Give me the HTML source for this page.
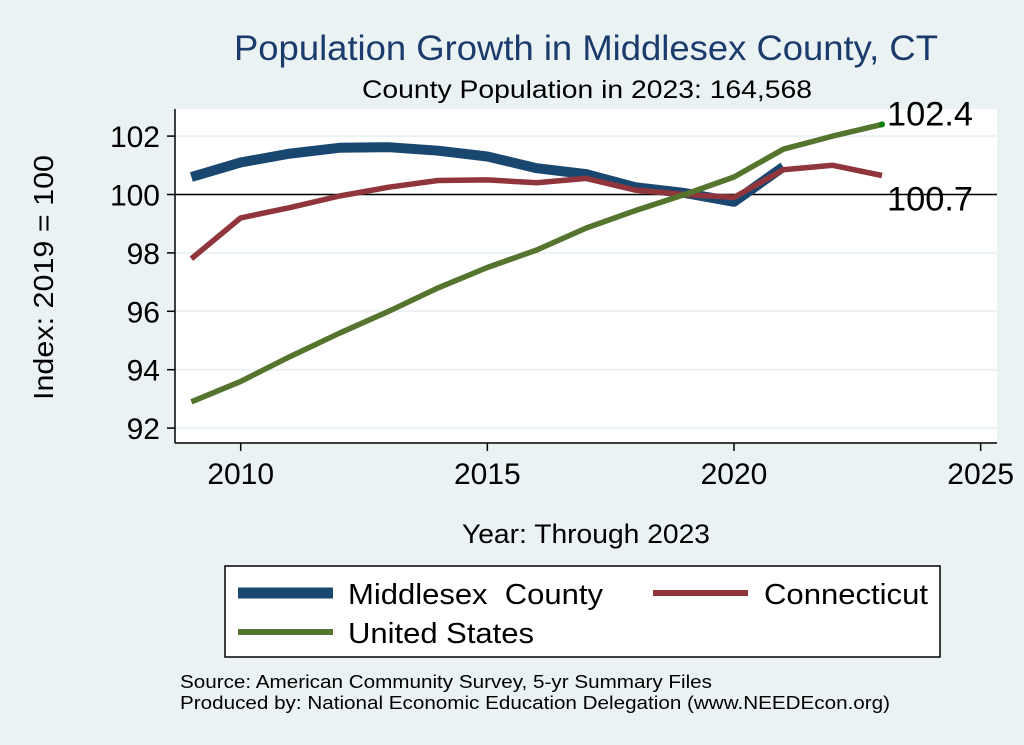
<!DOCTYPE html>
<html><head><meta charset="utf-8"><style>
body{margin:0;background:#eaf2f3;}
svg{display:block;font-family:"Liberation Sans",sans-serif;}
</style></head><body>
<svg id="c" width="1024" height="745">
<rect x="0" y="0" width="1024" height="745" fill="#eaf2f3"/>
<text x="234" y="60" font-size="35" fill="#1a3b6b" textLength="704" lengthAdjust="spacingAndGlyphs">Population Growth in Middlesex County, CT</text>
<text x="362" y="98" font-size="25" fill="#000" textLength="450" lengthAdjust="spacingAndGlyphs">County Population in 2023: 164,568</text>
<rect x="175" y="109" width="822" height="334" fill="#fff"/>
<g id="grid"></g>
<g id="axes"></g>
<g id="series"></g>
<text x="53" y="400" font-size="28" textLength="245" lengthAdjust="spacingAndGlyphs" transform="rotate(-90 53 400)">Index: 2019 = 100</text>
<text x="462" y="543" font-size="27" textLength="248" lengthAdjust="spacingAndGlyphs">Year: Through 2023</text>
<g>
<rect x="225" y="566" width="715" height="91" fill="#fff" stroke="#000" stroke-width="1.5"/>
<line x1="238" y1="593" x2="333" y2="593" stroke="#1a476f" stroke-width="11"/>
<text x="348" y="604" font-size="29" xml:space="preserve" textLength="255" lengthAdjust="spacingAndGlyphs">Middlesex  County</text>
<line x1="653" y1="593" x2="748" y2="593" stroke="#90353b" stroke-width="6"/>
<text x="764" y="604" font-size="29" textLength="164" lengthAdjust="spacingAndGlyphs">Connecticut</text>
<line x1="238" y1="632" x2="333" y2="632" stroke="#55752f" stroke-width="6"/>
<text x="348" y="643" font-size="29" textLength="186" lengthAdjust="spacingAndGlyphs">United States</text>
</g>
<text x="180" y="688" font-size="18" textLength="532" lengthAdjust="spacingAndGlyphs">Source: American Community Survey, 5-yr Summary Files</text>
<text x="180" y="709" font-size="18" textLength="710" lengthAdjust="spacingAndGlyphs">Produced by: National Economic Education Delegation (www.NEEDEcon.org)</text>
</svg>
<script>
const years = [2009,2010,2011,2012,2013,2014,2015,2016,2017,2018,2019,2020,2021,2022,2023];
const middlesex = [100.6,101.1,101.4,101.6,101.62,101.5,101.3,100.9,100.7,100.25,100.05,99.75,100.95];
const connecticut = [97.8,99.2,99.55,99.95,100.25,100.48,100.5,100.4,100.55,100.15,100.0,99.9,100.85,101.0,100.65];
const unitedStates = [92.9,93.6,94.45,95.25,96.0,96.8,97.5,98.1,98.85,99.45,100.0,100.6,101.55,102.0,102.4];
const yTicks = [92,94,96,98,100,102];
const xTicks = [2010,2015,2020,2025];
const endLabels = ["102.4","100.7"];

const NS="http://www.w3.org/2000/svg";
const X=v=>240.7+(v-2010)*49.33;
const Y=v=>194.5-(v-100)*29.2;
function mk(t,a,p){const e=document.createElementNS(NS,t);for(const k in a)e.setAttribute(k,a[k]);p.appendChild(e);return e;}
const grid=document.getElementById('grid'),axes=document.getElementById('axes'),ser=document.getElementById('series');
yTicks.forEach(v=>{
  const g=mk('line',{x1:175,x2:997,y1:Y(v),y2:Y(v),stroke:'#eaf2f3','stroke-width':2},grid);
  
  
  const t=mk('line',{x1:167,x2:175,y1:Y(v),y2:Y(v),stroke:'#000','stroke-width':1.5},axes);
  
  
  const l=mk('text',{x:160,y:Y(v)+11,'font-size':30,'text-anchor':'end'},axes);
  l.textContent=v;
  
  
});
const ref=mk('line',{x1:175,x2:997,y1:Y(100),y2:Y(100),stroke:'#000','stroke-width':1.5},grid);


const ya=mk('line',{x1:175,x2:175,y1:109,y2:443,stroke:'#000','stroke-width':1.5},axes);


const xa=mk('line',{x1:175,x2:997,y1:443,y2:443,stroke:'#000','stroke-width':1.5},axes);


xTicks.forEach(v=>{
  const t=mk('line',{x1:X(v),x2:X(v),y1:443,y2:451,stroke:'#000','stroke-width':1.5},axes);
  
  
  const l=mk('text',{x:X(v),y:484,'font-size':30,'text-anchor':'middle'},axes);
  l.textContent=v;
  
  
});
function line(vals,color,w,name){
  const d=vals.map((v,i)=>(i?'L':'M')+X(years[i]).toFixed(1)+','+Y(v).toFixed(1)).join('');
  const p=mk('path',{d:d,fill:'none',stroke:color,'stroke-width':w,'stroke-linejoin':'round'},ser);
  
  
}
line(middlesex,'#1a476f',10,'series-middlesex');
line(connecticut,'#90353b',5.5,'series-connecticut');
line(unitedStates,'#55752f',5.5,'series-united-states');
const last=unitedStates.length-1;
const dot=mk('circle',{cx:X(years[last]),cy:Y(unitedStates[last]),r:3,fill:'#008000'},ser);


const l1=mk('text',{x:887,y:Y(unitedStates[last])+1,'font-size':34,textLength:86,lengthAdjust:'spacingAndGlyphs'},ser);
l1.textContent=endLabels[0];


const l2=mk('text',{x:887,y:Y(connecticut[last])+35,'font-size':34,textLength:86,lengthAdjust:'spacingAndGlyphs'},ser);
l2.textContent=endLabels[1];


</script>
</body></html>
